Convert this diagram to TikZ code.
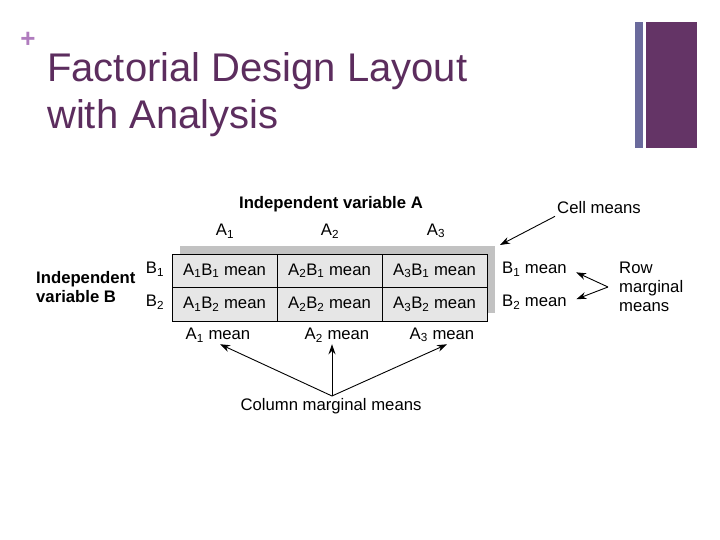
\documentclass[tikz,border=0pt]{standalone}
\usepackage{fontspec}
\setmainfont{Liberation Sans}
\usetikzlibrary{arrows.meta,positioning}
\definecolor{titlepurple}{HTML}{5C2D5E}
\definecolor{pluspurple}{HTML}{B07CBE}
\definecolor{barblue}{HTML}{6A6A9C}
\definecolor{barpurple}{HTML}{643466}
\definecolor{cellgray}{HTML}{E6E6E6}
\definecolor{shadowgray}{HTML}{C2C2C2}
\newcommand{\ix}[1]{\textsubscript{#1}}

\begin{document}
\begin{tikzpicture}[x=1pt, y=-1pt, font=\fontsize{16.7}{19}\selectfont,
    cell/.style={draw, line width=0.9pt, fill=cellgray, minimum width=105pt, minimum height=33.5pt, inner sep=0pt, outer sep=0pt},
    lbl/.style={inner sep=2pt},
    head/.style={inner sep=2pt, font=\fontsize{16.7}{19}\selectfont\bfseries, align=left},
    arr/.style={line width=0.9pt, -{Stealth[length=10pt,width=7pt]}}]
  \useasboundingbox (0,0) rectangle (720,540);
  % slide frame
  \node[text=pluspurple, font=\fontsize{26}{26}\selectfont\bfseries, inner sep=0pt] (plus) at (28,40) {+};
  \node[text=titlepurple, font=\fontsize{40}{47}\selectfont, align=left, anchor=north west, inner sep=0pt] (ttl)
       at (47,52) {Factorial Design Layout\\with Analysis};
  \fill[barblue] (635,22) rectangle (643,148);
  \fill[barpurple] (646,22) rectangle (697,148);
  % the table
  \fill[shadowgray] (180,246) rectangle (495,313);
  \node[cell] (c11) at (224.5,270.75) {A\ix{1}B\ix{1} mean};
  \node[cell, right=0pt of c11] (c21) {A\ix{2}B\ix{1} mean};
  \node[cell, right=0pt of c21] (c31) {A\ix{3}B\ix{1} mean};
  \node[cell, below=0pt of c11] (c12) {A\ix{1}B\ix{2} mean};
  \node[cell, below=0pt of c21] (c22) {A\ix{2}B\ix{2} mean};
  \node[cell, below=0pt of c31] (c32) {A\ix{3}B\ix{2} mean};
  \node[head] (ivA) at (331,204) {Independent variable A};
  \node[lbl] (a1) at (225,231) {A\ix{1}};
  \node[lbl] (a2) at (330,231) {A\ix{2}};
  \node[lbl] (a3) at (436,231) {A\ix{3}};
  \node[head, anchor=west] (ivB) at (34,287) {Independent\\variable B};
  \node[lbl] (b1) at (155,269) {B\ix{1}};
  \node[lbl] (b2) at (155,302) {B\ix{2}};
  % marginal means
  \node[lbl, anchor=west] (b1m) at (500,269) {B\ix{1} mean};
  \node[lbl, anchor=west] (b2m) at (500,302) {B\ix{2} mean};
  \node[lbl, anchor=west, align=left] (rmm) at (617,287) {Row\\marginal\\means};
  \node[lbl, anchor=west] (cm) at (555,208) {Cell means};
  \node[lbl] (a1m) at (218,335) {A\ix{1} mean};
  \node[lbl] (a2m) at (337,335) {A\ix{2} mean};
  \node[lbl] (a3m) at (442,335) {A\ix{3} mean};
  \node[lbl] (cmm) at (331,406) {Column marginal means};
  \coordinate (cmtip) at (500,245);
  \coordinate (rv) at (608,287);
  \coordinate (cv) at (332,396);
  \draw[arr] (cm.south west) -- (cmtip);
  \draw[arr, shorten >=8pt] (rv) -- (b1m.east);
  \draw[arr, shorten >=8pt] (rv) -- (b2m.east);
  \draw[arr] (cv) -- ([xshift=2pt]a1m.south);
  \draw[arr] (cv) -- (cv |- a2m.south);
  \draw[arr] (cv) -- ([xshift=5pt]a3m.south);
\end{tikzpicture}
\end{document}
